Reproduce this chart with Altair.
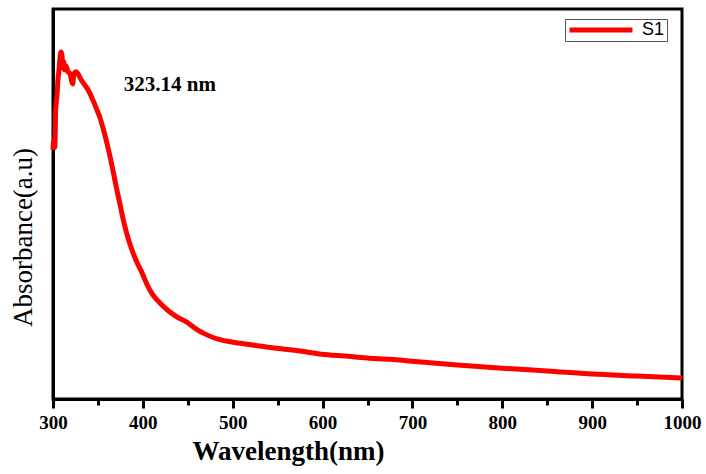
import altair as alt
import pandas as pd

# UV-Vis absorbance spectrum of sample S1
wavelength = [300, 301, 302, 303, 304.5, 305.5, 306.7, 307.8, 309, 310, 311, 312, 313,
              314.5, 316.7, 319, 321, 322, 323.14, 325.6, 327.8, 330, 334.5, 339, 343.4,
              347.9, 352.3, 356.8, 361.2, 365.7, 370.1, 374.6, 379, 383.5, 387.9, 393.5,
              399, 404.6, 410.2, 419, 428, 437, 449, 459, 469, 479, 499, 524, 549, 575,
              599, 625, 649.5, 675, 699.6, 750, 800, 850, 900, 950, 1000]
absorbance = [0.639, 0.665, 0.645, 0.742, 0.780, 0.818, 0.844, 0.875, 0.890, 0.882, 0.849,
              0.864, 0.844, 0.854, 0.839, 0.834, 0.813, 0.808, 0.832, 0.839, 0.834, 0.824,
              0.808, 0.793, 0.772, 0.747, 0.721, 0.685, 0.645, 0.598, 0.547, 0.499, 0.452,
              0.413, 0.382, 0.350, 0.324, 0.294, 0.270, 0.246, 0.227, 0.212, 0.197, 0.180,
              0.167, 0.157, 0.146, 0.138, 0.130, 0.123, 0.115, 0.110, 0.105, 0.102, 0.097,
              0.087, 0.079, 0.072, 0.064, 0.059, 0.054]
series = ["S1"] * len(wavelength)

peak_label = ["323.14 nm"]
label_x = [430]
label_y = [0.806]

x_ticks = list(range(300, 1001, 50))

SERIF = "Liberation Serif"

spectrum = pd.DataFrame({"wavelength": wavelength, "absorbance": absorbance, "series": series})
labels = pd.DataFrame({"x": label_x, "y": label_y, "text": peak_label})

x_scale = alt.Scale(domain=[300, 1000], nice=False, zero=False)
y_scale = alt.Scale(domain=[0, 1], nice=False, zero=False)

line = alt.Chart(spectrum).mark_line(
    strokeWidth=5, strokeJoin="round", interpolate="monotone"
).encode(
    x=alt.X(
        "wavelength:Q",
        scale=x_scale,
        title="Wavelength(nm)",
        axis=alt.Axis(
            values=x_ticks,
            format="d",
            labelExpr="datum.value % 100 === 0 ? datum.label : ''",
            tickSize={"condition": {"test": "datum.value % 100 === 0", "value": 9}, "value": 6},
            tickWidth=3,
            tickColor="black",
            domainColor="black",
            domainWidth=3,
            grid=False,
            labelFont=SERIF,
            labelFontWeight="bold",
            labelFontSize=19,
            labelColor="black",
            labelPadding=5,
            labelFlush=False,
            titleFont=SERIF,
            titleFontWeight="bold",
            titleFontSize=27,
            titleColor="black",
            titlePadding=6,
            titleX=235,
        ),
    ),
    y=alt.Y(
        "absorbance:Q",
        scale=y_scale,
        title="Absorbance(a.u)",
        axis=alt.Axis(
            labels=False,
            ticks=False,
            grid=False,
            domainColor="black",
            domainWidth=3,
            titleFont=SERIF,
            titleFontWeight="normal",
            titleFontSize=27,
            titleColor="black",
            titlePadding=16,
            titleY=228,
        ),
    ),
    color=alt.Color(
        "series:N",
        scale=alt.Scale(range=["#ff0000"]),
        legend=alt.Legend(
            title=None,
            orient="none",
            legendX=512,
            legendY=10,
            symbolType="stroke",
            symbolSize=3969,
            symbolStrokeWidth=5,
            clipHeight=18,
            labelFont="Liberation Sans",
            labelFontSize=18,
            labelColor="black",
            labelOffset=7,
            padding=2,
            strokeColor="#555555",
            fillColor="white",
        ),
    ),
)

text = alt.Chart(labels).mark_text(
    font=SERIF, fontWeight="bold", fontSize=21, color="black", align="center", baseline="middle"
).encode(
    x=alt.X("x:Q", scale=x_scale),
    y=alt.Y("y:Q", scale=y_scale),
    text="text:N",
)

chart = (
    alt.layer(line, text)
    .properties(
        width=629,
        height=390,
        autosize=alt.AutoSizeParams(type="none"),
        padding={"left": 53, "top": 9, "right": 24, "bottom": 75},
        background="white",
    )
    .configure_view(stroke="black", strokeWidth=3)
)

chart.save("out.html", embed_options={"renderer": "svg", "actions": False})
